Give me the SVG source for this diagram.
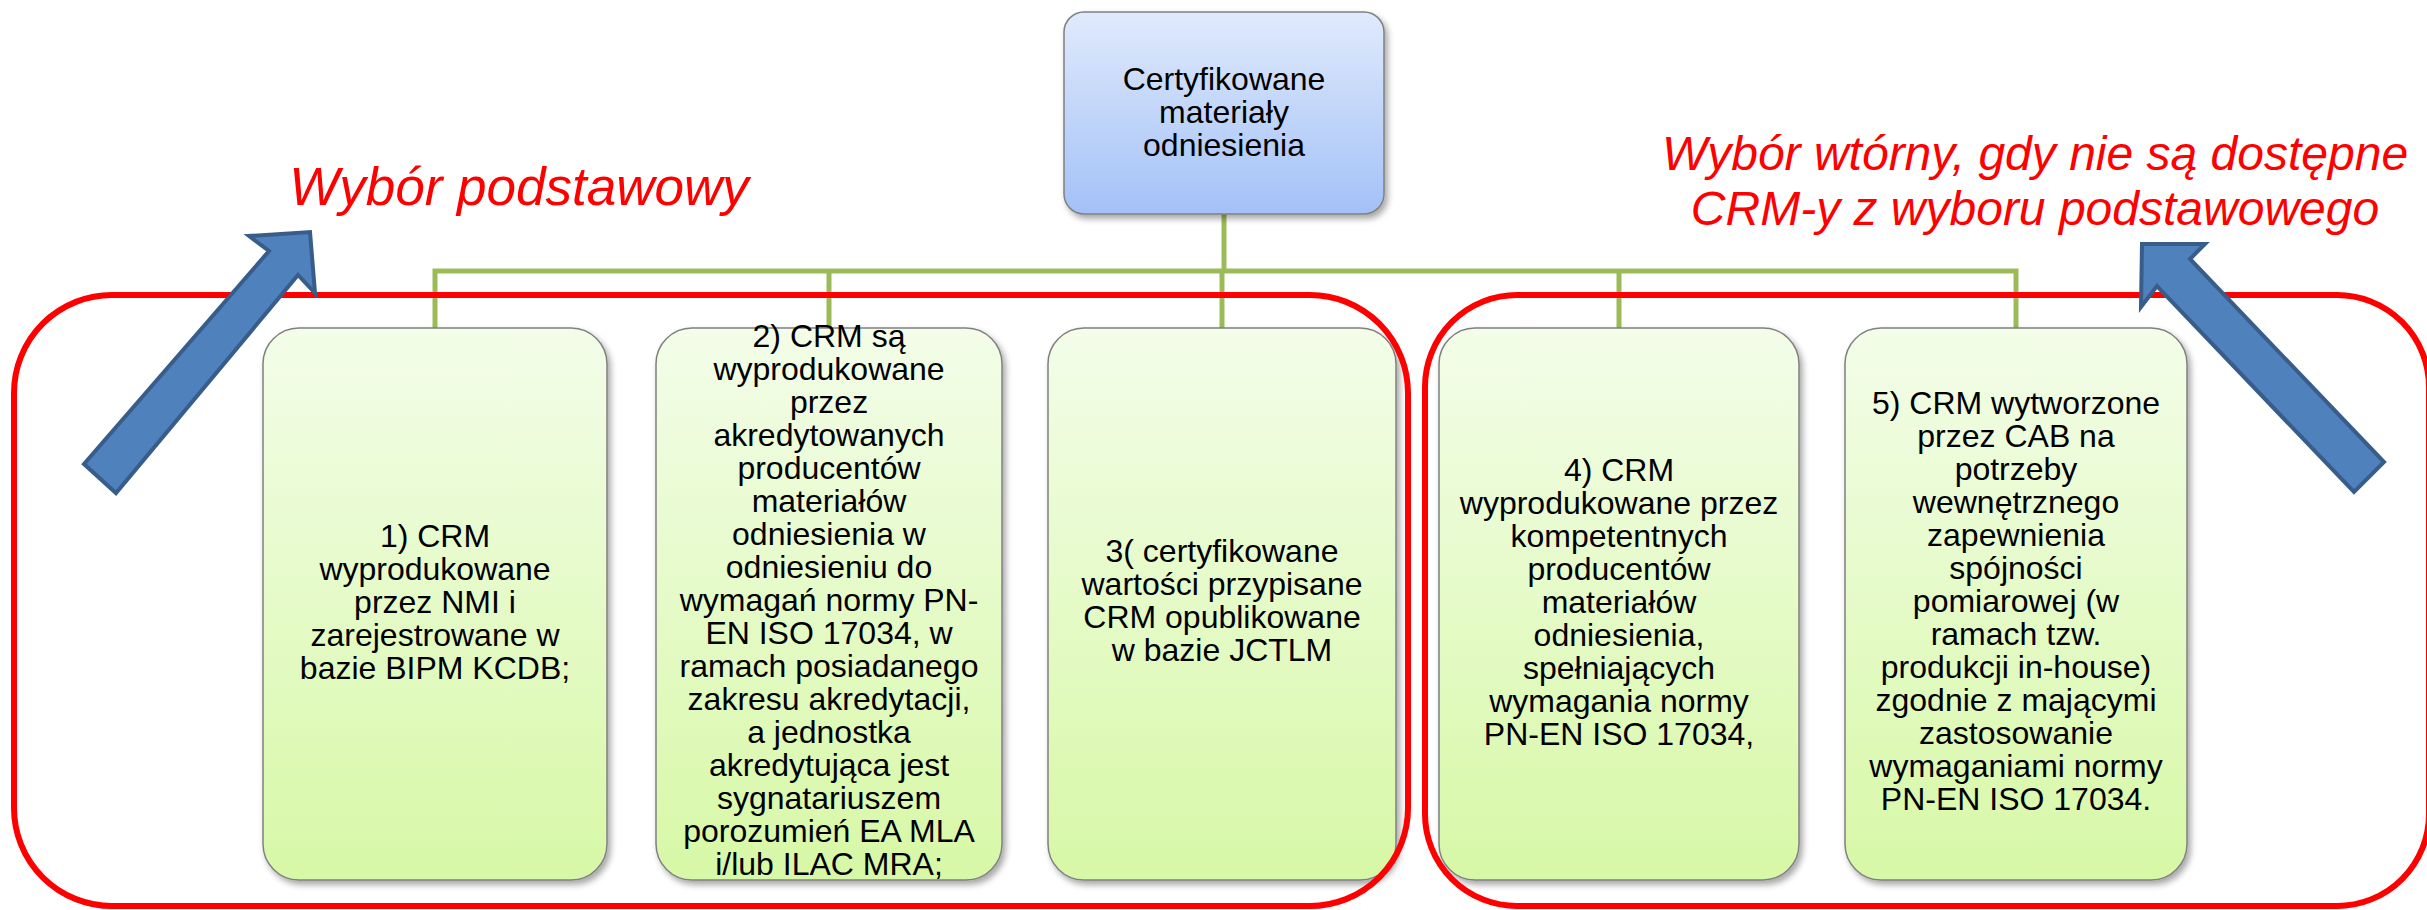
<svg xmlns="http://www.w3.org/2000/svg" width="2427" height="910" viewBox="0 0 2427 910">
<defs>
<linearGradient id="gBlue" x1="0" y1="0" x2="0" y2="1">
<stop offset="0" stop-color="#e0eafc"/>
<stop offset="1" stop-color="#a3c1f7"/>
</linearGradient>
<linearGradient id="gGreen" x1="0" y1="0" x2="0" y2="1">
<stop offset="0" stop-color="#f3fde9"/>
<stop offset="1" stop-color="#d7f8a6"/>
</linearGradient>
<filter id="sh" x="-10%" y="-10%" width="125%" height="125%">
<feDropShadow dx="3" dy="4" stdDeviation="3" flood-color="#000" flood-opacity="0.35"/>
</filter>
<style>
.top{fill:url(#gBlue);stroke:#808080;stroke-width:1.5;filter:url(#sh)}
.box{fill:url(#gGreen);stroke:#808080;stroke-width:1.5;filter:url(#sh)}
.t{font-family:"Liberation Sans",Arial,sans-serif;font-size:32px;fill:#000;text-anchor:middle}
.conn{stroke:#9bbb59;stroke-width:5;fill:none}
.red{fill:none;stroke:#ff0000;stroke-width:6}
.lbl{font-family:"Liberation Sans",Arial,sans-serif;font-style:italic;fill:#ff0000;text-anchor:middle}
.arrow{fill:#4f81bd;stroke:#385d8a;stroke-width:4;stroke-linejoin:miter}
</style>
</defs>
<rect width="2427" height="910" fill="#ffffff"/>

<g id="connectors">
<path class="conn" d="M1224,214 V271"/>
<path class="conn" d="M435,328 V271 H2016 V328"/>
<path class="conn" d="M829,271 V328"/>
<path class="conn" d="M1222,271 V328"/>
<path class="conn" d="M1619,271 V328"/>
</g>

<g id="root">
<rect class="top" x="1064" y="12" width="320" height="202" rx="20"/>
<text class="t"><tspan x="1224" y="90">Certyfikowane</tspan><tspan x="1224" y="123">materiały</tspan><tspan x="1224" y="156">odniesienia</tspan></text>
</g>

<g id="node1">
<rect class="box" x="263" y="328" width="344" height="552" rx="36"/>
<text class="t"><tspan x="435" y="547">1) CRM</tspan><tspan x="435" y="580">wyprodukowane</tspan><tspan x="435" y="613">przez NMI i</tspan><tspan x="435" y="646">zarejestrowane w</tspan><tspan x="435" y="679">bazie BIPM KCDB;</tspan></text>
</g>

<g id="node2">
<rect class="box" x="656" y="328" width="346" height="552" rx="36"/>
<text class="t"><tspan x="829" y="347">2) CRM są</tspan><tspan x="829" y="380">wyprodukowane</tspan><tspan x="829" y="413">przez</tspan><tspan x="829" y="446">akredytowanych</tspan><tspan x="829" y="479">producentów</tspan><tspan x="829" y="512">materiałów</tspan><tspan x="829" y="545">odniesienia w</tspan><tspan x="829" y="578">odniesieniu do</tspan><tspan x="829" y="611">wymagań normy PN-</tspan><tspan x="829" y="644">EN ISO 17034, w</tspan><tspan x="829" y="677">ramach posiadanego</tspan><tspan x="829" y="710">zakresu akredytacji,</tspan><tspan x="829" y="743">a jednostka</tspan><tspan x="829" y="776">akredytująca jest</tspan><tspan x="829" y="809">sygnatariuszem</tspan><tspan x="829" y="842">porozumień EA MLA</tspan><tspan x="829" y="875">i/lub ILAC MRA;</tspan></text>
</g>

<g id="node3">
<rect class="box" x="1048" y="328" width="348" height="552" rx="36"/>
<text class="t"><tspan x="1222" y="562">3( certyfikowane</tspan><tspan x="1222" y="595">wartości przypisane</tspan><tspan x="1222" y="628">CRM opublikowane</tspan><tspan x="1222" y="661">w bazie JCTLM</tspan></text>
</g>

<g id="node4">
<rect class="box" x="1439" y="328" width="360" height="552" rx="36"/>
<text class="t"><tspan x="1619" y="481">4) CRM</tspan><tspan x="1619" y="514">wyprodukowane przez</tspan><tspan x="1619" y="547">kompetentnych</tspan><tspan x="1619" y="580">producentów</tspan><tspan x="1619" y="613">materiałów</tspan><tspan x="1619" y="646">odniesienia,</tspan><tspan x="1619" y="679">spełniających</tspan><tspan x="1619" y="712">wymagania normy</tspan><tspan x="1619" y="745">PN-EN ISO 17034,</tspan></text>
</g>

<g id="node5">
<rect class="box" x="1845" y="328" width="342" height="552" rx="36"/>
<text class="t"><tspan x="2016" y="414">5) CRM wytworzone</tspan><tspan x="2016" y="447">przez CAB na</tspan><tspan x="2016" y="480">potrzeby</tspan><tspan x="2016" y="513">wewnętrznego</tspan><tspan x="2016" y="546">zapewnienia</tspan><tspan x="2016" y="579">spójności</tspan><tspan x="2016" y="612">pomiarowej (w</tspan><tspan x="2016" y="645">ramach tzw.</tspan><tspan x="2016" y="678">produkcji in-house)</tspan><tspan x="2016" y="711">zgodnie z mającymi</tspan><tspan x="2016" y="744">zastosowanie</tspan><tspan x="2016" y="777">wymaganiami normy</tspan><tspan x="2016" y="810">PN-EN ISO 17034.</tspan></text>
</g>

<g id="group-primary">
<rect class="red" x="14" y="295" width="1394" height="611" rx="98"/>
<path class="arrow" d="M84,464 L269,251 L249,236 L310,232 L315,293 L298,275 L116,493 Z"/>
<text class="lbl" font-size="53" x="519" y="205">Wybór podstawowy</text>
</g>

<g id="group-secondary">
<rect class="red" x="1425" y="295" width="1004" height="611" rx="92"/>
<path class="arrow" d="M2142,244 L2205,244 L2190,259 L2384,462 L2354,492 L2157,286 L2141,307 Z"/>
<text class="lbl" font-size="48"><tspan x="2035" y="170">Wybór wtórny, gdy nie są dostępne</tspan><tspan x="2035" y="225">CRM-y z wyboru podstawowego</tspan></text>
</g>
</svg>
